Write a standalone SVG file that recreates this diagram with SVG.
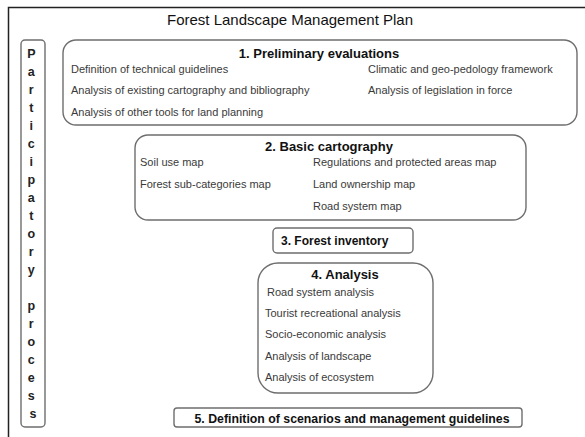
<svg xmlns="http://www.w3.org/2000/svg" width="585" height="437" viewBox="0 0 585 437">
  <style>
    .frame { fill: none; stroke: #222; stroke-width: 1.5; }
    .box { fill: #fff; stroke: #6e6e6e; stroke-width: 1.4; }
    .title { font-family: "Liberation Sans", Arial, sans-serif; font-size: 15px; fill: #111; }
    .head { font-family: "Liberation Sans", Arial, sans-serif; font-size: 13px; font-weight: bold; fill: #111; }
    .item { font-family: "Liberation Sans", Arial, sans-serif; font-size: 11px; fill: #3a3a3a; }
    .vert { font-family: "Liberation Sans", Arial, sans-serif; font-size: 12.5px; font-weight: bold; fill: #222; text-anchor: middle; }
  </style>
  <rect width="585" height="437" fill="#fff"/>

  <!-- page frame (left and top edges) -->
  <path class="frame" d="M8.5,437 V7.5 H585"/>

  <text class="title" x="290" y="25" text-anchor="middle">Forest Landscape Management Plan</text>

  <!-- side bar: participatory process -->
  <g id="participatory">
    <rect class="box" x="21" y="40" width="24" height="387" rx="4"/>
    <text class="vert" x="33">
      <tspan x="33" y="58">P</tspan>
      <tspan x="33" y="76">a</tspan>
      <tspan x="33" y="94">r</tspan>
      <tspan x="33" y="112">t</tspan>
      <tspan x="33" y="130">i</tspan>
      <tspan x="33" y="148">c</tspan>
      <tspan x="33" y="166">i</tspan>
      <tspan x="33" y="184">p</tspan>
      <tspan x="33" y="202">a</tspan>
      <tspan x="33" y="220">t</tspan>
      <tspan x="33" y="238">o</tspan>
      <tspan x="33" y="256">r</tspan>
      <tspan x="33" y="274">y</tspan>
      <tspan x="33" y="310">p</tspan>
      <tspan x="33" y="328">r</tspan>
      <tspan x="33" y="346">o</tspan>
      <tspan x="33" y="364">c</tspan>
      <tspan x="33" y="382">e</tspan>
      <tspan x="33" y="400">s</tspan>
      <tspan x="33" y="418">s</tspan>
    </text>
  </g>

  <!-- 1. Preliminary evaluations -->
  <g id="preliminary">
    <rect class="box" x="63" y="40" width="514" height="85" rx="13"/>
    <text class="head" x="319" y="58" text-anchor="middle">1. Preliminary evaluations</text>
    <text class="item" x="71" y="73">Definition of technical guidelines</text>
    <text class="item" x="71" y="94">Analysis of existing cartography and bibliography</text>
    <text class="item" x="71" y="116">Analysis of other tools for land planning</text>
    <text class="item" x="368" y="73">Climatic and geo-pedology framework</text>
    <text class="item" x="368" y="94">Analysis of legislation in force</text>
  </g>

  <!-- 2. Basic cartography -->
  <g id="cartography">
    <rect class="box" x="135" y="135" width="391" height="85" rx="13"/>
    <text class="head" x="329" y="151" text-anchor="middle">2. Basic cartography</text>
    <text class="item" x="140" y="166">Soil use map</text>
    <text class="item" x="140" y="188">Forest sub-categories map</text>
    <text class="item" x="313" y="166">Regulations and protected areas map</text>
    <text class="item" x="313" y="188">Land ownership map</text>
    <text class="item" x="313" y="210">Road system map</text>
  </g>

  <!-- 3. Forest inventory -->
  <g id="inventory">
    <rect class="box" x="273" y="228" width="140" height="25" rx="4"/>
    <text class="head" x="281" y="245" style="font-size:12px">3. Forest inventory</text>
  </g>

  <!-- 4. Analysis -->
  <g id="analysis">
    <rect class="box" x="258" y="263" width="175" height="130" rx="20"/>
    <text class="head" x="345" y="279" text-anchor="middle">4. Analysis</text>
    <text class="item" x="267" y="296">Road system analysis</text>
    <text class="item" x="265" y="317">Tourist recreational analysis</text>
    <text class="item" x="265" y="338">Socio-economic analysis</text>
    <text class="item" x="265" y="360">Analysis of landscape</text>
    <text class="item" x="265" y="381">Analysis of ecosystem</text>
  </g>

  <!-- 5. Definition of scenarios -->
  <g id="scenarios">
    <rect class="box" x="174" y="408" width="348" height="19" rx="3"/>
    <text class="head" x="352" y="423" text-anchor="middle" style="font-size:12.3px">5. Definition of scenarios and management guidelines</text>
  </g>

  <g id="connectors"/>
</svg>
